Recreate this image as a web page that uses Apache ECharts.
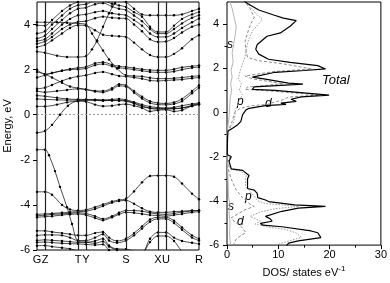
<!DOCTYPE html>
<html><head><meta charset="utf-8">
<script src="https://cdn.jsdelivr.net/npm/echarts@6/dist/echarts.min.js"></script>
<style>html,body{margin:0;padding:0;background:#fff}#c{width:390px;height:283px}</style>
</head><body><div id="c"></div>
<script>
// ---- k-path (band structure) ----
const kPos = [0, 8, 41, 49, 89, 121, 129, 162];
const kLabels = ['G', 'Z', 'T', 'Y', 'S', 'X', 'U', 'R'];
const energyTicks = [-6, -4, -2, 0, 2, 4];
const energyMinorTicks = [-5, -3, -1, 1, 3];
const dosTicks = [0, 10, 20, 30];
const dosMinorTicks = [5, 15, 25];

// ---- bands: [k, E(eV)] ----
const bandC1 = [[0,-0.8],[8,-0.72],[15,-0.45],[23,0],[31,0.4],[41,0.62],[49,0.64],[58,0.65],[66,0.64],[75,0.63],[82,0.62],[89,0.6],[97,0.5],[105,0.35],[113,0.3],[121,0.28],[129,0.28],[137,0.28],[145,0.3],[155,0.42],[162,0.5]];
const bandC2 = [[0,0.37],[8,0.37],[20,0.45],[30,0.55],[41,0.6],[49,0.58],[58,0.45],[66,0.38],[75,0.4],[82,0.45],[89,0.47],[97,0.4],[105,0.3],[113,0.15],[121,0.2],[129,0.22],[137,0.15],[145,0.2],[155,0.4],[162,0.47]];
const bandC3 = [[0,0.7],[8,0.68],[20,0.66],[30,0.65],[41,0.65],[49,0.66],[58,0.64],[66,0.62],[75,0.64],[82,0.65],[89,0.62],[97,0.52],[105,0.4],[113,0.28],[121,0.25],[129,0.25],[137,0.26],[145,0.3],[155,0.38],[162,0.45]];
const bandC4 = [[0,0.85],[8,0.82],[20,0.75],[30,0.7],[41,0.68],[49,0.68],[58,0.67],[66,0.66],[75,0.68],[82,0.7],[89,0.66],[97,0.56],[105,0.45],[113,0.36],[121,0.32],[129,0.3],[137,0.33],[145,0.4],[155,0.48],[162,0.52]];
const bandC5 = [[0,1.05],[8,1.0],[20,1.05],[30,1.1],[41,1.15],[49,1.12],[58,1.06],[66,1.05],[75,1.18],[82,1.35],[89,1.3],[97,1.05],[105,0.8],[113,0.6],[121,0.52],[129,0.5],[137,0.55],[145,0.7],[155,1.05],[162,1.3]];
const bandC6 = [[0,1.9],[8,1.8],[15,1.65],[25,1.42],[33,1.25],[41,1.18],[49,1.12],[58,1.03],[66,1.0],[75,1.12],[82,1.28],[89,1.25],[97,0.98],[105,0.72],[113,0.52],[121,0.45],[129,0.44],[137,0.48],[145,0.6],[155,0.95],[162,1.2]];
const bandC7 = [[0,1.15],[8,1.2],[15,1.32],[25,1.5],[33,1.62],[41,1.7],[49,1.75],[58,1.85],[66,1.9],[75,1.8],[82,1.72],[89,1.7],[97,1.65],[105,1.6],[113,1.52],[121,1.5],[129,1.52],[137,1.54],[145,1.56],[155,1.62],[162,1.65]];
const bandC8 = [[0,1.65],[8,1.75],[15,1.85],[25,1.95],[33,2.0],[41,2.02],[49,2.05],[58,2.2],[66,2.25],[75,2.15],[82,2.08],[89,2.05],[97,2.0],[105,1.95],[113,1.9],[121,1.88],[129,1.88],[137,1.92],[145,2.0],[155,2.08],[162,2.12]];
const bandC9 = [[0,2.0],[8,1.8],[15,1.85],[25,1.95],[33,2.03],[41,2.08],[49,2.12],[58,2.28],[66,2.33],[75,2.22],[82,2.15],[89,2.12],[97,2.07],[105,2.02],[113,1.98],[121,1.97],[129,1.97],[137,2.02],[145,2.1],[155,2.15],[162,2.19]];
const bandC10 = [[0,4.1],[8,4.1],[20,4.1],[30,4.08],[41,4.05],[49,4.0],[55,3.6],[60,3.25],[66,2.85],[72,2.45],[80,2.05],[89,1.75],[97,1.72],[105,1.7],[113,1.64],[121,1.6],[129,1.6],[137,1.62],[145,1.65],[155,1.7],[162,1.72]];
const bandC11 = [[0,2.8],[8,2.75],[20,2.62],[30,2.56],[41,2.56],[49,2.6],[55,2.9],[60,3.3],[66,3.9],[72,4.5],[78,4.95],[84,5.4]];
const bandC12 = [[0,3.0],[8,3.1],[15,3.3],[25,3.6],[33,3.85],[41,3.97],[49,3.95],[58,3.75],[66,3.55],[75,3.5],[82,3.48],[89,3.45],[97,3.2],[105,2.9],[113,2.65],[121,2.56],[129,2.56],[137,2.7],[145,2.95],[155,3.35],[162,3.53]];
const bandC13 = [[0,3.15],[8,3.25],[15,3.45],[25,3.8],[33,4.0],[41,4.12],[49,4.15],[58,4.28],[66,4.35],[75,4.3],[82,4.28],[89,4.27],[97,4.0],[105,3.7],[113,3.35],[121,3.23],[129,3.25],[137,3.4],[145,3.65],[155,3.9],[162,4.0]];
const bandC14 = [[0,3.27],[8,3.35],[15,3.6],[25,4.0],[33,4.25],[41,4.41],[49,4.45],[58,4.55],[66,4.6],[75,4.5],[82,4.45],[89,4.41],[97,4.2],[105,3.95],[113,3.6],[121,3.45],[129,3.45],[137,3.6],[145,3.85],[155,4.1],[162,4.27]];
const bandC15 = [[0,3.38],[8,3.5],[15,3.8],[25,4.2],[33,4.5],[41,4.7],[49,4.75],[58,4.9],[66,4.95],[75,4.8],[82,4.7],[89,4.64],[97,4.4],[105,4.15],[113,3.8],[121,3.6],[129,3.6],[137,3.8],[145,4.05],[155,4.3],[162,4.41]];
const bandC16 = [[0,3.6],[8,3.7],[15,4.0],[25,4.4],[33,4.7],[41,4.86],[49,4.9],[58,5.05],[66,5.05],[75,4.92],[82,4.85],[89,4.78],[97,4.55],[105,4.35],[113,3.9],[121,3.67],[129,3.67],[137,3.95],[145,4.25],[155,4.45],[162,4.56]];
const bandC17 = [[0,3.97],[8,3.95],[15,4.2],[25,4.6],[33,4.85],[41,5.0],[49,5.05],[58,5.2],[66,5.3],[75,5.2],[82,5.1],[89,5.0],[97,4.7],[105,4.45],[113,4.41],[121,4.41],[129,4.41],[137,4.41],[145,4.45],[155,4.6],[162,4.7]];
const bandV1 = [[0,-1.55],[8,-1.55],[12,-1.8],[18,-2.5],[23,-3.2],[30,-4.1],[35,-4.85],[41,-5.6],[49,-5.65],[58,-5.7],[66,-5.62],[72,-5.85],[80,-6.0],[89,-6.05],[97,-6.2]];
const bandV2 = [[0,-3.42],[8,-3.42],[15,-3.55],[25,-4.0],[33,-4.2],[41,-4.25],[49,-4.22],[58,-4.1],[66,-3.98],[75,-3.85],[82,-3.78],[89,-3.73],[97,-3.4],[105,-3.0],[113,-2.72],[121,-2.7],[129,-2.7],[137,-2.75],[145,-3.05],[155,-3.5],[162,-3.75]];
const bandV3 = [[0,-4.42],[8,-4.4],[15,-4.38],[25,-4.35],[33,-4.32],[41,-4.3],[49,-4.28],[58,-4.18],[66,-4.05],[75,-3.9],[82,-3.83],[89,-3.8],[97,-3.95],[105,-4.15],[113,-4.3],[121,-4.33],[129,-4.33],[137,-4.3],[145,-4.28],[155,-4.25],[162,-4.25]];
const bandV4 = [[0,-4.48],[8,-4.46],[15,-4.42],[25,-4.4],[33,-4.37],[41,-4.35],[49,-4.38],[58,-4.5],[66,-4.62],[75,-4.5],[82,-4.35],[89,-4.25],[97,-4.25],[105,-4.28],[113,-4.35],[121,-4.4],[129,-4.42],[137,-4.38],[145,-4.32],[155,-4.27],[162,-4.25]];
const bandV5 = [[0,-4.55],[8,-4.52],[15,-4.5],[25,-4.45],[33,-4.42],[41,-4.4],[49,-4.45],[58,-4.58],[66,-4.68],[75,-4.55],[82,-4.42],[89,-4.33],[97,-4.35],[105,-4.4],[113,-4.45],[121,-4.47],[129,-4.5],[137,-4.45],[145,-4.4],[155,-4.33],[162,-4.3]];
const bandV6 = [[0,-5.15],[8,-5.15],[15,-5.2],[25,-5.25],[33,-5.3],[41,-5.35],[49,-5.35],[58,-5.25],[66,-5.2],[72,-5.45],[80,-5.6],[89,-5.5],[97,-5.25],[105,-4.95],[113,-4.65],[121,-4.55],[129,-4.55],[137,-4.7],[145,-5.0],[155,-5.35],[162,-5.5]];
const bandV7 = [[0,-5.36],[8,-5.33],[15,-5.33],[25,-5.35],[33,-5.45],[41,-5.58],[49,-5.58],[58,-5.45],[66,-5.3],[72,-5.58],[80,-5.68],[89,-5.58],[97,-5.35],[105,-5.05],[113,-4.75],[121,-4.62],[129,-4.62],[137,-4.8],[145,-5.1],[155,-5.45],[162,-5.58]];
const bandV8 = [[0,-5.58],[8,-5.55],[15,-5.57],[25,-5.6],[33,-5.63],[41,-5.66],[49,-5.66],[58,-5.6],[66,-5.5],[72,-5.8],[80,-5.95],[89,-5.96],[97,-6.05],[105,-6.1],[113,-5.5],[121,-5.22],[129,-5.22],[137,-5.45],[145,-5.6],[155,-5.68],[162,-5.73]];
const bandV9 = [[0,-5.66],[8,-5.65],[15,-5.67],[25,-5.7],[33,-5.72],[41,-5.73],[49,-5.75],[58,-5.78],[66,-5.75],[72,-6.0],[80,-6.15],[97,-6.3],[105,-6.2],[113,-5.65],[121,-5.38],[129,-5.38],[137,-5.6],[145,-6.05],[155,-6.3]];
const bandV10 = [[0,-5.81],[8,-5.8],[15,-5.85],[25,-5.9],[33,-5.95],[41,-6.05],[49,-6.1]];

const bands = [bandC1,bandC2,bandC3,bandC4,bandC5,bandC6,bandC7,bandC8,bandC9,bandC10,bandC11,bandC12,bandC13,bandC14,bandC15,bandC16,bandC17,
               bandV1,bandV2,bandV3,bandV4,bandV5,bandV6,bandV7,bandV8,bandV9,bandV10];

// ---- DOS: [states/eV, E(eV)] ----
const dosTotal = [[11.6,-6.03],[12.0,-5.91],[13.9,-5.81],[18.3,-5.66],[17.7,-5.44],[16.4,-5.36],[10.7,-5.17],[7.0,-5.1],[6.5,-5.02],[8.8,-4.92],[8.4,-4.81],[7.5,-4.7],[10.7,-4.47],[13.9,-4.33],[19.2,-4.25],[13.2,-4.18],[8.1,-4.03],[7.5,-3.96],[6.0,-3.85],[5.9,-3.66],[5.3,-3.51],[4.0,-3.44],[4.0,-3.0],[4.3,-2.85],[3.05,-2.62],[0.83,-2.55],[0.4,-2.2],[0.83,-2.0],[0.05,-1.9],[0.1,-1.2],[0.2,-0.84],[1.15,-0.7],[2.1,-0.55],[2.7,-0.4],[3.05,-0.1],[3.7,0.12],[4.3,0.19],[7.5,0.31],[11.5,0.37],[10.5,0.42],[13.5,0.5],[12.5,0.6],[14.5,0.71],[19.9,0.79],[9.4,1.0],[4.95,1.05],[5.3,1.16],[14.8,1.28],[12.0,1.33],[6.9,1.53],[4.95,1.6],[9.4,1.82],[15.1,1.9],[19.2,1.97],[17.7,2.12],[12.3,2.27],[8.1,2.41],[6.2,2.64],[5.6,2.86],[5.9,3.08],[7.8,3.45],[10.4,3.6],[12.3,3.9],[13.5,4.16],[11.0,4.27],[9.1,4.41],[6.2,4.64],[4.0,4.93],[3.0,5.1]];
const dosS = [[0.7,-6.0],[0.5,-5.5],[0.6,-5.0],[0.4,-4.5],[0.6,-4.2],[0.3,-3.8],[0.2,-3.0],[0.1,-2.5],[0.0,-2.0],[0.0,-1.0],[0.2,-0.6],[0.4,-0.2],[0.5,0.2],[0.6,0.6],[0.9,1.0],[0.7,1.3],[1.0,1.6],[0.8,1.9],[1.2,2.3],[1.0,2.7],[1.3,3.1],[1.6,3.5],[1.8,3.9],[1.4,4.3],[1.0,4.7],[0.6,5.0]];
const dosP = [[9.5,-6.0],[11.5,-5.85],[14.5,-5.65],[13.5,-5.45],[11.5,-5.3],[8.0,-5.18],[5.5,-5.05],[6.5,-4.92],[5.5,-4.8],[4.5,-4.7],[6.5,-4.5],[9.5,-4.35],[14.0,-4.25],[7.5,-4.12],[6.0,-4.0],[5.5,-3.85],[4.8,-3.65],[4.2,-3.5],[3.6,-3.3],[3.6,-3.0],[3.8,-2.85],[2.6,-2.65],[0.6,-2.55],[0.3,-2.2],[0.5,-2.0],[0.0,-1.95],[0.0,-0.9],[0.6,-0.7],[1.2,-0.5],[1.5,-0.2],[1.6,0.1],[2.0,0.3],[2.5,0.6],[3.0,0.8],[2.4,1.0],[2.8,1.3],[2.2,1.55],[2.6,1.9],[3.0,2.2],[3.5,2.5],[3.8,2.9],[4.2,3.3],[5.0,3.7],[6.9,4.2],[5.5,4.5],[4.5,4.8],[4.2,5.0]];
const dosD = [[1.15,-6.03],[1.8,-5.73],[2.5,-5.6],[3.7,-5.44],[2.7,-5.14],[1.5,-4.95],[0.8,-4.77],[2.4,-4.55],[3.5,-4.4],[5.3,-4.25],[4.5,-4.15],[3.0,-3.85],[1.8,-3.5],[0.8,-3.0],[0.3,-2.6],[0.0,-2.0],[0.0,-0.9],[0.5,-0.7],[1.0,-0.4],[1.5,0.0],[2.5,0.18],[4.5,0.3],[8.0,0.37],[9.0,0.45],[11.0,0.58],[12.0,0.7],[18.0,0.79],[8.0,0.98],[3.5,1.05],[4.0,1.15],[11.0,1.3],[5.0,1.52],[3.5,1.65],[9.0,1.85],[16.5,1.97],[11.0,2.2],[6.0,2.35],[4.0,2.5],[3.7,2.8],[3.5,3.2],[4.0,3.6],[4.6,4.0],[5.3,4.3],[4.5,4.7],[3.5,5.0]];

const FONT = 'Liberation Sans';
const chart = echarts.init(document.getElementById('c'), null, {renderer: 'canvas'});

const bandSeries = bands.map((b, i) => ({
  type: 'line', xAxisIndex: 0, yAxisIndex: 0, data: b,
  smooth: 0.35, clip: true, silent: true,
  symbol: 'circle', symbolSize: 2.4,
  itemStyle: {color: '#000'},
  lineStyle: {color: '#000', width: 0.7},
  z: 3,
  markLine: i === 0 ? {
    silent: true, symbol: 'none', label: {show: false}, animation: false,
    data: kPos.slice(1, -1).map(v => ({xAxis: v, lineStyle: {color: '#222', width: 1.2, type: 'solid'}}))
      .concat([{yAxis: 0, lineStyle: {color: '#999', width: 1, type: [2, 2]}}])
  } : undefined
}));

const dosSeries = [
  {data: dosS, color: '#b5b5b5', type0: 'solid', w: 1},
  {data: dosP, color: '#999', type0: [1.5, 1.5], w: 1},
  {data: dosD, color: '#8a8a8a', type0: [3, 2], w: 1},
  {data: dosTotal, color: '#000', type0: 'solid', w: 1.2}
].map(s => ({
  type: 'line', xAxisIndex: 1, yAxisIndex: 1, data: s.data, showSymbol: false, symbol: 'none',
  clip: true, silent: true, smooth: false,
  lineStyle: {color: s.color, width: s.w, type: s.type0}, z: 4
}));

const tickLabel = {color: '#000', fontSize: 11, fontFamily: FONT};
const noLine = {show: false, onZero: false};

const option = {
  animation: false,
  backgroundColor: '#fff',
  grid: [
    {left: 37, top: 2, width: 162, height: 248, show: true, borderColor: '#000', borderWidth: 1, backgroundColor: 'transparent', containLabel: false},
    {left: 227, top: 2, width: 158, height: 248, show: true, borderColor: '#000', borderWidth: 1, backgroundColor: 'transparent', containLabel: false}
  ],
  xAxis: [
    {type: 'value', gridIndex: 0, min: 0, max: 162, position: 'bottom',
     axisLine: noLine, axisTick: {show: false}, splitLine: {show: false},
     axisLabel: Object.assign({customValues: kPos, margin: 4,
       formatter: v => kLabels[kPos.indexOf(v)] || ''}, tickLabel)},
    {type: 'value', gridIndex: 1, min: 0, max: 30, position: 'bottom',
     name: '{a|DOS/ states eV}{b|-1}', nameLocation: 'middle', nameGap: 17,
     nameTextStyle: {rich: {a: {fontSize: 11, fontFamily: FONT, color: '#000'}, b: {fontSize: 8, fontFamily: FONT, color: '#000', padding: [0, 0, 7, 0]}}},
     axisLine: noLine, splitLine: {show: false},
     axisTick: {show: true, customValues: dosTicks, length: 4, inside: false, lineStyle: {color: '#000'}},
     axisLabel: Object.assign({customValues: dosTicks, margin: 4}, tickLabel)},
    {type: 'value', gridIndex: 1, min: 0, max: 30, position: 'bottom', offset: 0,
     axisLine: noLine, splitLine: {show: false}, axisLabel: {show: false},
     axisTick: {show: true, customValues: dosMinorTicks, length: 2.5, inside: false, lineStyle: {color: '#000'}}}
  ],
  yAxis: [
    {type: 'value', gridIndex: 0, min: -6, max: 5, position: 'left',
     name: 'Energy, eV', nameLocation: 'middle', nameGap: 24,
     nameTextStyle: {fontSize: 11, fontFamily: FONT, color: '#000'},
     axisLine: noLine, splitLine: {show: false},
     axisTick: {show: true, customValues: energyTicks, length: 4, inside: false, lineStyle: {color: '#000'}},
     axisLabel: Object.assign({customValues: energyTicks, margin: 7}, tickLabel)},
    {type: 'value', gridIndex: 1, min: -6, max: 5, position: 'left',
     axisLine: noLine, splitLine: {show: false},
     axisTick: {show: true, customValues: energyTicks, length: 4, inside: false, lineStyle: {color: '#000'}},
     axisLabel: Object.assign({customValues: energyTicks, margin: 8}, tickLabel)},
    {type: 'value', gridIndex: 1, min: -6, max: 5, position: 'left', offset: 0,
     axisLine: noLine, splitLine: {show: false}, axisLabel: {show: false},
     axisTick: {show: true, customValues: energyMinorTicks, length: 2.5, inside: false, lineStyle: {color: '#000'}}}
  ],
  series: bandSeries.concat(dosSeries),
  graphic: [
    {type: 'text', x: 322, y: 80, style: {text: 'Total', font: 'italic 13px ' + FONT, fill: '#000', textVerticalAlign: 'middle'}},
    {type: 'text', x: 227, y: 45, style: {text: 's', font: 'italic 12px ' + FONT, fill: '#000', textVerticalAlign: 'middle'}},
    {type: 'text', x: 237, y: 102, style: {text: 'p', font: 'italic 12px ' + FONT, fill: '#000', textVerticalAlign: 'middle'}},
    {type: 'text', x: 265, y: 104, style: {text: 'd', font: 'italic 12px ' + FONT, fill: '#000', textVerticalAlign: 'middle'}},
    {type: 'text', x: 245, y: 197, style: {text: 'p', font: 'italic 12px ' + FONT, fill: '#000', textVerticalAlign: 'middle'}},
    {type: 'text', x: 228, y: 207, style: {text: 's', font: 'italic 12px ' + FONT, fill: '#000', textVerticalAlign: 'middle'}},
    {type: 'text', x: 237, y: 222, style: {text: 'd', font: 'italic 12px ' + FONT, fill: '#000', textVerticalAlign: 'middle'}}
  ]
};
chart.setOption(option);
</script></body></html>
